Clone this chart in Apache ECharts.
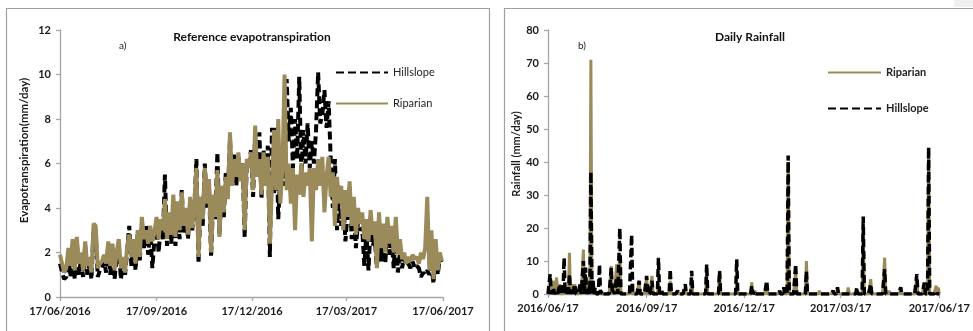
<!DOCTYPE html>
<html><head><meta charset="utf-8">
<script src="https://cdn.jsdelivr.net/npm/echarts@6/dist/echarts.min.js"></script>
<style>html,body{margin:0;padding:0;background:#fff}#c{width:973px;height:331px}</style>
</head><body><div id="c"></div>
<script>
// ---- axis ticks (days since 2016-06-17) ----
const tickDays = [0, 92, 183, 273, 365];
const etTickLabels = ['17/06/2016', '17/09/2016', '17/12/2016', '17/03/2017', '17/06/2017'];
const rainTickLabels = ['2016/06/17', '2016/09/17', '2016/12/17', '2017/03/17', '2017/06/17'];

// ---- reference evapotranspiration, one value every 2 days from 17/06/2016 ----
const etStepDays = 2;
const etRiparian = [
  1.9, 1.5, 1.1, 1.3, 2.2, 1.4, 2.6, 1.2, 2.7, 1.5,
  2.0, 1.2, 2.5, 1.4, 1.8, 1.1, 3.3, 3.2, 1.3, 1.5,
  1.6, 1.9, 1.5, 2.5, 1.4, 2.4, 1.2, 2.0, 2.6, 1.3,
  1.8, 1.1, 2.3, 2.8, 1.8, 2.6, 1.5, 3.0, 1.8, 3.6,
  2.6, 3.0, 2.4, 3.2, 2.5, 2.9, 3.6, 2.6, 3.5, 3.0,
  4.4, 2.6, 3.8, 2.8, 4.6, 2.7, 4.3, 3.0, 4.7, 3.2,
  4.0, 2.8, 4.5, 3.1, 4.2, 5.8, 1.8, 4.5, 3.5, 5.8,
  4.2, 5.3, 2.0, 4.6, 3.6, 5.7, 2.7, 5.0, 3.8, 5.4,
  4.4, 7.4, 5.0, 6.2, 5.4, 6.5, 5.2, 6.0, 3.0, 6.2,
  5.8, 6.5, 4.8, 7.7, 5.4, 6.2, 4.6, 6.5, 5.0, 6.3,
  2.4, 5.0, 7.5, 4.8, 8.0, 4.2, 5.8, 10.0, 4.8, 6.0,
  4.2, 5.8, 3.0, 5.5, 4.6, 6.0, 4.5, 5.6, 5.0, 5.8,
  2.5, 5.8, 4.8, 6.2, 5.0, 6.3, 3.8, 5.4, 6.3, 4.5,
  5.6, 3.2, 5.4, 4.2, 5.0, 3.0, 4.8, 3.6, 5.2, 3.2,
  4.5, 2.8, 4.0, 3.3, 3.8, 2.6, 3.5, 2.5, 3.9, 2.8,
  3.4, 1.3, 3.8, 2.2, 3.3, 2.0, 3.6, 2.4, 3.2, 2.0,
  3.6, 1.9, 2.6, 1.7, 2.0, 1.5, 1.8, 1.6, 1.9, 1.7,
  1.8, 1.5, 2.0, 1.7, 2.2, 4.5, 1.2, 3.0, 0.8, 2.6,
  1.2, 2.0, 1.6
];
const etHillslope = [
  1.5, 1.1, 0.8, 0.9, 1.8, 0.9, 2.4, 0.8, 2.5, 1.0,
  1.7, 0.9, 2.3, 1.0, 1.5, 0.8, 3.1, 2.9, 0.9, 1.2,
  1.3, 1.6, 1.1, 2.3, 1.0, 2.2, 0.8, 1.8, 2.4, 0.8,
  1.5, 1.0, 2.1, 3.2, 1.4, 2.4, 1.2, 2.8, 1.6, 3.3,
  2.2, 3.2, 1.9, 3.0, 1.3, 2.6, 3.3, 2.0, 3.2, 2.6,
  5.5, 2.3, 3.6, 2.4, 4.3, 2.3, 4.1, 2.6, 4.8, 2.9,
  3.8, 2.6, 4.2, 3.0, 4.0, 6.2, 1.5, 4.3, 3.2, 6.0,
  4.0, 5.0, 1.8, 4.4, 3.5, 6.5, 2.8, 4.8, 3.5, 5.6,
  4.7, 7.1, 5.0, 6.4, 5.0, 6.3, 5.3, 6.0, 2.7, 6.0,
  5.9, 6.6, 4.5, 7.3, 5.5, 7.4, 4.4, 6.6, 5.0, 6.8,
  1.8, 7.6, 4.6, 7.6, 3.5, 5.6, 6.5, 5.0, 9.8, 7.0,
  8.5, 5.8, 8.0, 6.2, 9.9, 5.5, 7.5, 6.0, 7.8, 5.8,
  7.0, 6.0, 7.5, 10.1, 7.8, 8.2, 9.3, 7.6, 8.8, 6.2,
  4.0, 6.2, 3.0, 5.0, 3.2, 4.4, 2.5, 3.8, 5.0, 2.6,
  4.0, 2.2, 3.4, 3.0, 3.1, 1.4, 2.9, 1.2, 3.2, 2.3,
  2.6, 1.3, 3.2, 1.6, 3.0, 1.5, 3.2, 1.9, 2.7, 1.3,
  3.0, 1.1, 2.0, 1.3, 1.8, 1.4, 1.5, 1.3, 1.6, 1.3,
  1.4, 1.3, 0.9, 1.1, 1.0, 1.2, 1.0, 1.4, 0.6, 2.4,
  1.0, 1.8, 1.4
];

// ---- daily rainfall: rain days (days since 2016-06-17); every other day is 0 mm ----
const rainDay = [2, 5, 8, 11, 15, 18, 20, 22, 25, 30, 33, 35, 38, 40, 42, 44, 48, 50, 59, 61,
  64, 67, 78, 85, 92, 97, 103, 106, 114, 121, 128, 134, 148, 160, 176, 190, 193, 204, 216, 220,
  224, 231, 241, 253, 266, 270, 280, 288, 294, 301, 314, 318, 329, 344, 351, 355, 362, 364];
const rainRiparian = [1, 4, 5, 3, 2, 1, 12.5, 3, 3, 2, 13.5, 5, 3, 71, 4, 1, 1, 0.5, 8.5, 2,
  9, 12, 3, 4, 5, 5.5, 3, 1, 4, 1, 2, 5, 6, 7, 3, 3.5, 1, 3, 1, 2,
  40, 7, 10, 1, 1, 1.5, 2, 1.5, 20, 4.5, 11, 1, 1, 5, 3, 44, 2.5, 2];
const rainHillslope = [6, 2, 1, 3, 11, 2, 6, 1, 3, 3, 10, 8, 2, 37, 4, 2, 9, 1, 8, 1,
  5, 20, 18, 4, 5.5, 4, 11, 1, 7.5, 1, 3, 7, 9, 7, 10.5, 2.5, 1, 4, 1, 2,
  42, 9, 7, 0.5, 1, 2, 0.5, 2, 23.5, 3, 7.5, 0.5, 2, 6, 3.5, 44.5, 1, 0.5];
const yearDays = 365;

// ---- build library data ----
const etPairs = arr => arr.map((v, i) => [i * etStepDays, v]);
function dailyRain(vals) {
  const out = [];
  for (let d = 0; d <= yearDays; d++) out.push([d, 0]);
  rainDay.forEach((d, i) => { out[d][1] = vals[i]; });
  return out;
}

const GOLD = '#9b8b5b';
const FONT = 'Lato';
const labelStyle = { fontFamily: FONT, fontWeight: 'bold', fontSize: 11, color: '#1a1a1a' };
const axisLineStyle = { color: '#a6a6a6', width: 1.3 };

const chart = echarts.init(document.getElementById('c'), null, { renderer: 'canvas' });
chart.setOption({
  animation: false,
  backgroundColor: '#fff',
  textStyle: { fontFamily: FONT },
  graphic: [
    { type: 'rect', shape: { x: 6.5, y: 8.5, width: 483, height: 340 }, style: { fill: null, stroke: '#a0a0a0', lineWidth: 1.2 }, silent: true, z: -10 },
    { type: 'rect', shape: { x: 504.5, y: 8.5, width: 480, height: 340 }, style: { fill: null, stroke: '#a0a0a0', lineWidth: 1.2 }, silent: true, z: -10 },
    { type: 'rect', shape: { x: 954, y: 0, width: 19, height: 7 }, style: { fill: '#f0f0f0' }, silent: true, z: -11 }
  ],
  title: [
    { text: 'Reference evapotranspiration', left: 247, top: 26, textAlign: 'center',
      textStyle: { fontFamily: FONT, fontWeight: 'bold', fontSize: 12, color: '#111' } },
    { text: 'Daily Rainfall', left: 745, top: 26, textAlign: 'center',
      textStyle: { fontFamily: FONT, fontWeight: 'bold', fontSize: 12, color: '#111' } },
    { text: 'a)', left: 114, top: 36, textStyle: { fontFamily: FONT, fontWeight: 'normal', fontSize: 10, color: '#222' } },
    { text: 'b)', left: 573, top: 36, textStyle: { fontFamily: FONT, fontWeight: 'normal', fontSize: 10, color: '#222' } }
  ],
  legend: [
    { data: ['Hillslope', 'Riparian'], orient: 'vertical', left: 330, top: 62, itemWidth: 52, itemHeight: 4,
      itemGap: 20, itemStyle: { opacity: 0 },
      textStyle: { fontFamily: FONT, fontSize: 11, color: '#222' }, selectedMode: false },
    { data: ['Riparian', 'Hillslope'], orient: 'vertical', left: 822, top: 62, itemWidth: 53, itemHeight: 4,
      itemGap: 25, itemStyle: { opacity: 0 },
      textStyle: { fontFamily: FONT, fontSize: 11, fontWeight: 'bold', color: '#222' }, selectedMode: false }
  ],
  grid: [
    { left: 60, right: 530, top: 30, bottom: 34 },
    { left: 548, right: 33, top: 30, bottom: 37 }
  ],
  xAxis: [
    { gridIndex: 0, type: 'value', min: 0, max: yearDays, splitLine: { show: false },
      axisLine: { lineStyle: axisLineStyle },
      axisTick: { show: true, inside: false, length: 4, lineStyle: axisLineStyle, customValues: tickDays },
      axisLabel: Object.assign({ margin: 9, customValues: tickDays,
        formatter: v => etTickLabels[tickDays.indexOf(Math.round(v))] || '' }, labelStyle) },
    { gridIndex: 1, type: 'value', min: 0, max: yearDays, splitLine: { show: false },
      axisLine: { lineStyle: axisLineStyle },
      axisTick: { show: true, inside: false, length: 4, lineStyle: axisLineStyle, customValues: tickDays },
      axisLabel: Object.assign({ margin: 9, customValues: tickDays,
        formatter: v => rainTickLabels[tickDays.indexOf(Math.round(v))] || '' }, labelStyle) }
  ],
  yAxis: [
    { gridIndex: 0, type: 'value', min: 0, max: 12, interval: 2, splitLine: { show: false },
      axisLine: { show: true, lineStyle: axisLineStyle },
      axisTick: { show: true, length: 4, lineStyle: axisLineStyle },
      axisLabel: Object.assign({ margin: 9 }, labelStyle),
      name: 'Evapotranspiration(mm/day)', nameLocation: 'middle', nameGap: 30,
      nameTextStyle: { fontFamily: FONT, fontWeight: 'bold', fontSize: 11.5, color: '#1a1a1a', padding: [0, 0, 0, 26] } },
    { gridIndex: 1, type: 'value', min: 0, max: 80, interval: 10, splitLine: { show: false },
      axisLine: { show: true, lineStyle: axisLineStyle },
      axisTick: { show: true, length: 4, lineStyle: axisLineStyle },
      axisLabel: Object.assign({ margin: 9 }, labelStyle),
      name: 'Rainfall (mm/day)', nameLocation: 'middle', nameGap: 21,
      nameTextStyle: { fontFamily: FONT, fontWeight: 'bold', fontSize: 11, color: '#1a1a1a', padding: [0, 0, 0, 16] } }
  ],
  series: [
    { name: 'Hillslope', type: 'line', xAxisIndex: 0, yAxisIndex: 0, data: etPairs(etHillslope),
      showSymbol: false, symbol: 'none', lineStyle: { color: '#000', width: 4, type: [8, 4] }, itemStyle: { color: '#000' } },
    { name: 'Riparian', type: 'line', xAxisIndex: 0, yAxisIndex: 0, data: etPairs(etRiparian),
      showSymbol: false, symbol: 'none', lineStyle: { color: GOLD, width: 4 }, itemStyle: { color: GOLD } },
    { name: 'Riparian', type: 'line', xAxisIndex: 1, yAxisIndex: 1, data: dailyRain(rainRiparian),
      showSymbol: false, symbol: 'none', lineStyle: { color: GOLD, width: 3 }, itemStyle: { color: GOLD } },
    { name: 'Hillslope', type: 'line', xAxisIndex: 1, yAxisIndex: 1, data: dailyRain(rainHillslope),
      showSymbol: false, symbol: 'none', lineStyle: { color: '#000', width: 3.5, type: [8, 4] }, itemStyle: { color: '#000' } }
  ]
});
</script>
</body></html>
